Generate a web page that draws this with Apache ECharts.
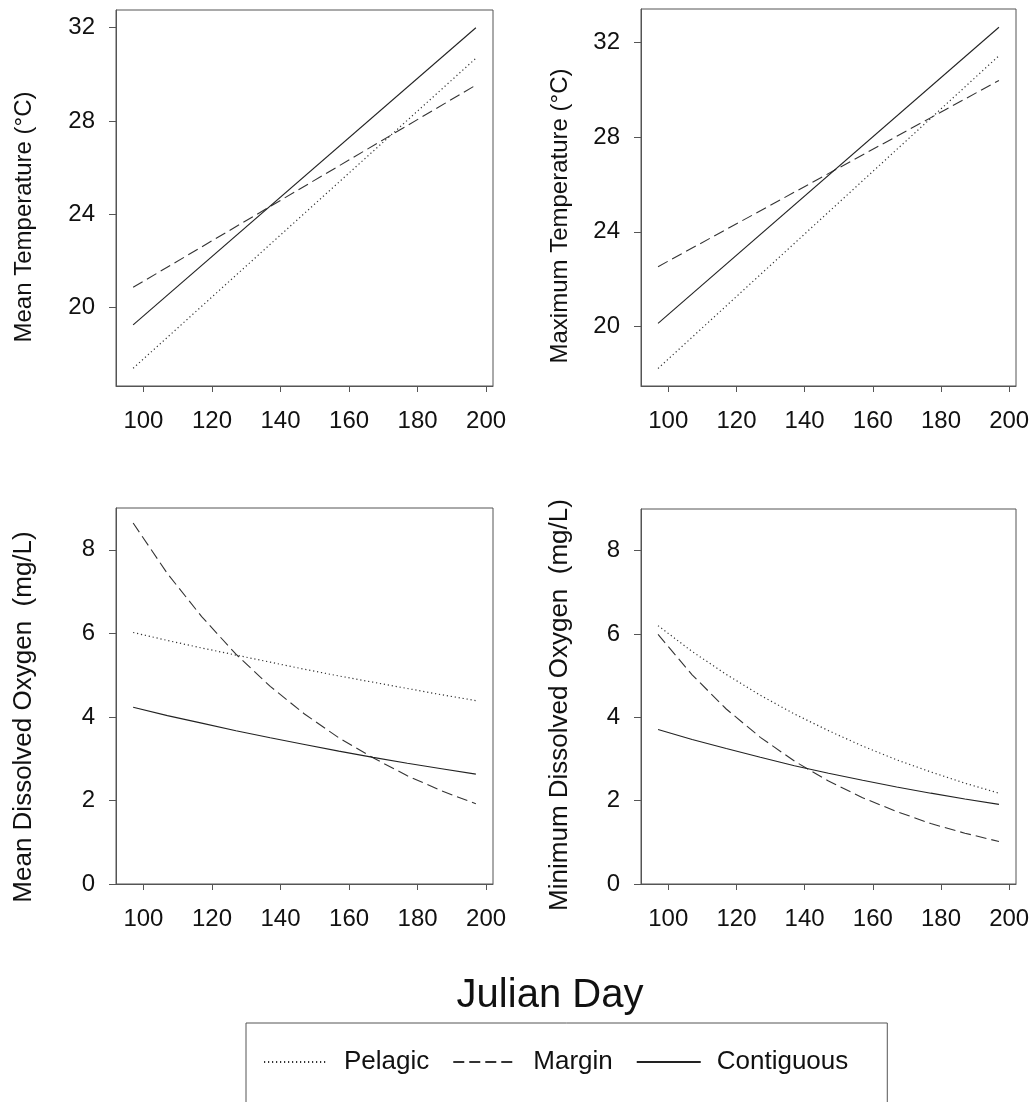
<!DOCTYPE html>
<html>
<head>
<meta charset="utf-8">
<script src="https://cdn.jsdelivr.net/npm/echarts@6/dist/echarts.min.js"></script>
<style>
html,body{margin:0;padding:0;background:#fff;}
#chart{width:1036px;height:1102px;}
</style>
</head>
<body>
<div id="chart"></div>
<script>
// ---- data ----
const seriesNames = ['Pelagic', 'Margin', 'Contiguous'];
const xTicks = [100, 120, 140, 160, 180, 200];
const tempTicks = [20, 24, 28, 32];
const doTicks = [0, 2, 4, 6, 8];

const tempDays = [97, 197];
const meanTempPelagic = [17.40, 30.69];
const meanTempMargin = [20.87, 29.54];
const meanTempContiguous = [19.26, 32.00];
const maxTempPelagic = [18.24, 31.42];
const maxTempMargin = [22.53, 30.38];
const maxTempContiguous = [20.14, 32.62];

// dissolved oxygen panels: curves read every 10 days
const doDays = [97, 107, 117, 127, 137, 147, 157, 167, 177, 187, 197];
const meanDOPelagic = [6.02, 5.83, 5.65, 5.48, 5.31, 5.14, 4.98, 4.83, 4.68, 4.53, 4.39];
const meanDOMargin = [8.64, 7.43, 6.40, 5.50, 4.73, 4.07, 3.50, 3.02, 2.59, 2.23, 1.92];
const meanDOContiguous = [4.23, 4.03, 3.85, 3.67, 3.50, 3.34, 3.18, 3.03, 2.89, 2.76, 2.63];
const minDOPelagic = [6.20, 5.58, 5.03, 4.53, 4.08, 3.68, 3.31, 2.98, 2.69, 2.42, 2.18];
const minDOMargin = [5.99, 5.02, 4.20, 3.52, 2.95, 2.47, 2.07, 1.74, 1.45, 1.22, 1.02];
const minDOContiguous = [3.71, 3.47, 3.25, 3.04, 2.84, 2.66, 2.49, 2.33, 2.18, 2.04, 1.91];

const yTitles = ['Mean Temperature (\u00B0C)', 'Maximum Temperature (\u00B0C)',
                 'Mean Dissolved Oxygen  (mg/L)', 'Minimum Dissolved Oxygen  (mg/L)'];
const xTitle = 'Julian Day';

// ---- styling ----
const FONT = '"Liberation Sans", Arial, Helvetica, sans-serif';
const frameColor = '#555';
const lineStyles = {
  'Pelagic':    { color: '#333', width: 1.2, type: [1.2, 2.8] },
  'Margin':     { color: '#333', width: 1.1, type: [11, 5] },
  'Contiguous': { color: '#222', width: 1.1, type: 'solid' }
};

const grids = [
  { left: 116, top: 10, width: 377, height: 376 },
  { left: 641, top: 9, width: 375, height: 377 },
  { left: 116, top: 508, width: 377, height: 376 },
  { left: 641, top: 509, width: 375, height: 375 }
];
const yRanges = [
  { min: 16.64, max: 32.76, ticks: tempTicks },
  { min: 17.50, max: 33.39, ticks: tempTicks },
  { min: 0, max: 9, ticks: doTicks },
  { min: 0, max: 9, ticks: doTicks }
];

const xAxes = grids.map((g, i) => ({
  type: 'value', gridIndex: i, min: 92, max: 202,
  axisLine: { show: true, onZero: false, lineStyle: { color: frameColor, width: 1 } },
  axisTick: { show: true, length: 6, customValues: xTicks, lineStyle: { color: frameColor } },
  axisLabel: { show: true, customValues: xTicks, margin: 23, color: '#111',
               fontSize: 24, fontFamily: FONT, hideOverlap: false },
  splitLine: { show: false }
}));
const yAxes = grids.map((g, i) => ({
  type: 'value', gridIndex: i, min: yRanges[i].min, max: yRanges[i].max,
  axisLine: { show: true, onZero: false, lineStyle: { color: frameColor, width: 1 } },
  axisTick: { show: true, length: 7, customValues: yRanges[i].ticks, lineStyle: { color: frameColor } },
  axisLabel: { show: true, customValues: yRanges[i].ticks, margin: 21, color: '#111',
               fontSize: 24, fontFamily: FONT, hideOverlap: false },
  splitLine: { show: false }
}));

function mk(name, xs, ys, idx) {
  return {
    type: 'line', name: name, xAxisIndex: idx, yAxisIndex: idx,
    data: xs.map((x, k) => [x, ys[k]]),
    symbol: 'none', showSymbol: false, smooth: false, silent: true,
    lineStyle: lineStyles[name], itemStyle: { color: lineStyles[name].color },
    z: 2
  };
}

const series = [
  mk('Pelagic', tempDays, meanTempPelagic, 0),
  mk('Margin', tempDays, meanTempMargin, 0),
  mk('Contiguous', tempDays, meanTempContiguous, 0),
  mk('Pelagic', tempDays, maxTempPelagic, 1),
  mk('Margin', tempDays, maxTempMargin, 1),
  mk('Contiguous', tempDays, maxTempContiguous, 1),
  mk('Pelagic', doDays, meanDOPelagic, 2),
  mk('Margin', doDays, meanDOMargin, 2),
  mk('Contiguous', doDays, meanDOContiguous, 2),
  mk('Pelagic', doDays, minDOPelagic, 3),
  mk('Margin', doDays, minDOMargin, 3),
  mk('Contiguous', doDays, minDOContiguous, 3)
];

const titlePos = [
  { x: 24, y: 217, size: 24 },
  { x: 560, y: 216, size: 24 },
  { x: 24, y: 717, size: 26 },
  { x: 560, y: 705, size: 26 }
];

const graphics = yTitles.map((t, i) => ({
  type: 'text', x: titlePos[i].x, y: titlePos[i].y, rotation: Math.PI / 2, silent: true,
  style: { text: t, font: titlePos[i].size + 'px ' + FONT, fill: '#111',
           align: 'center', verticalAlign: 'middle', textAlign: 'center', textVerticalAlign: 'middle' }
}));
graphics.push({
  type: 'text', x: 550, y: 996, silent: true,
  style: { text: xTitle, font: '40px ' + FONT, fill: '#111',
           align: 'center', verticalAlign: 'middle', textAlign: 'center', textVerticalAlign: 'middle' }
});

const option = {
  backgroundColor: '#fff',
  animation: false,
  grid: grids.map(g => Object.assign({ show: true, borderColor: frameColor, borderWidth: 1,
                                        backgroundColor: 'transparent', containLabel: false }, g)),
  xAxis: xAxes,
  yAxis: yAxes,
  legend: {
    data: seriesNames,
    left: 246, top: 1023,
    orient: 'horizontal',
    padding: [26, 39, 60, 17],
    itemWidth: 64, itemHeight: 12, itemGap: 23,
    borderColor: frameColor, borderWidth: 1,
    selectedMode: false,
    itemStyle: { color: 'transparent', borderColor: 'transparent', borderWidth: 0, opacity: 0 },
    textStyle: { fontSize: 26, fontFamily: FONT, color: '#111', padding: [0, 0, 0, 11] }
  },
  graphic: graphics,
  series: series
};

const chart = echarts.init(document.getElementById('chart'), null, { renderer: 'canvas' });
chart.setOption(option);
</script>
</body>
</html>
